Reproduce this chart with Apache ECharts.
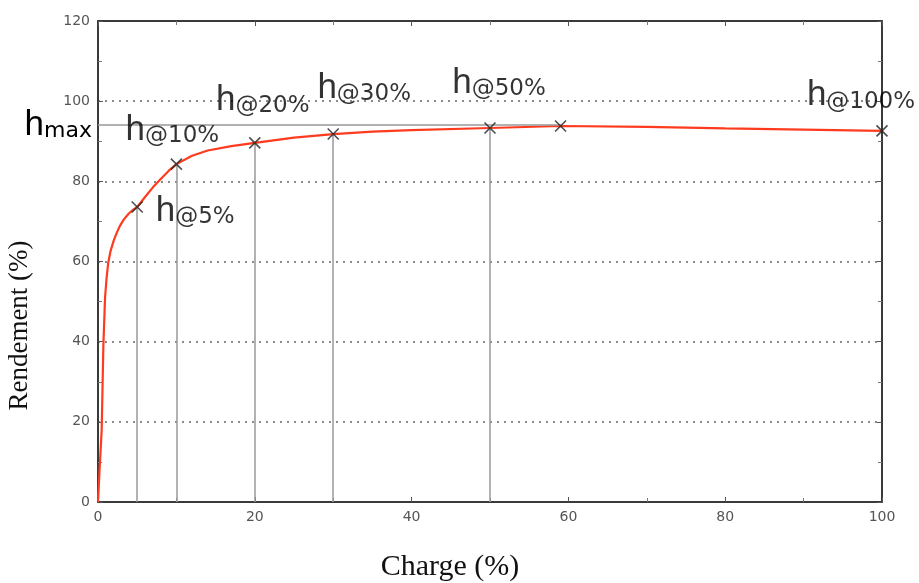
<!DOCTYPE html>
<html>
<head>
<meta charset="utf-8">
<script src="https://cdn.jsdelivr.net/npm/echarts@6/dist/echarts.min.js"></script>
<style>
  html, body { margin: 0; padding: 0; background: #fff; }
  #chart { width: 919px; height: 583px; }
</style>
</head>
<body>
<div id="chart"></div>
<script>
// efficiency curve (charge %, rendement %)
var curveX = [0, 0.2, 0.47, 0.68, 0.9, 1.1, 1.3, 1.6, 2.0, 2.4, 2.8, 3.3, 3.9, 4.4, 5, 6, 7, 8, 9, 10, 12, 14, 17, 20, 25, 30, 35, 40, 50, 59, 70, 80, 90, 100];
var curveY = [0, 8, 18, 38.7, 51, 56, 59.6, 62.6, 65.2, 67.2, 68.9, 70.5, 71.9, 72.8, 73.6, 76.1, 78.5, 80.6, 82.6, 84.3, 86.4, 87.7, 88.8, 89.6, 90.9, 91.8, 92.4, 92.8, 93.3, 93.8, 93.6, 93.2, 92.9, 92.6];

// marked points
var markX = [5, 10, 20, 30, 50, 59, 100];
var markY = [73.6, 84.3, 89.6, 91.8, 93.3, 93.8, 92.6];
var markNames = ['@5%', '@10%', '@20%', '@30%', '@50%', '', '@100%'];
var dropLines = [5, 10, 20, 30, 50]; // which points get a vertical line

var hmax = 94;
var hmaxEnd = 59;

// label offsets in px (style only)
var labelOffsets = [[58, 4], [-4, -34], [8, -43], [31, -46], [9, -45], [0, 0], [-21, -35]];

var myChart = echarts.init(document.getElementById('chart'));

var richText = {
  h: { fontSize: 35, color: '#000', fontFamily: 'Liberation Sans, Arial', verticalAlign: 'bottom', lineHeight: 35 },
  s: { fontSize: 23, color: '#000', fontFamily: 'DejaVu Sans', verticalAlign: 'bottom', lineHeight: 29 },
  m: { fontSize: 22, color: '#000', fontFamily: 'DejaVu Sans', verticalAlign: 'bottom', lineHeight: 29 }
};

var curveData = curveX.map(function (x, i) { return [x, curveY[i]]; });
var pointData = markX.map(function (x, i) {
  return {
    value: [x, markY[i]],
    label: {
      show: markNames[i] !== '',
      formatter: '{h|h}{s|' + markNames[i] + '}',
      offset: labelOffsets[i]
    }
  };
});
var dropData = dropLines.map(function (x) {
  var y = markY[markX.indexOf(x)];
  return [{ coord: [x, 0] }, { coord: [x, y] }];
});

var axisCommon = {
  type: 'value',
  axisLine: { show: true, onZero: false, lineStyle: { color: '#3a3a3a', width: 2 } },
  axisTick: { show: true, inside: true, length: 5, lineStyle: { color: '#555' } },
  minorTick: { show: true, splitNumber: 2, length: 4, lineStyle: { color: '#777' } }
};

var option = {
  animation: false,
  grid: { left: 98, right: 37, top: 21, bottom: 81, outerBoundsMode: 'none' },
  xAxis: [
    Object.assign({}, axisCommon, {
      min: 0, max: 100, interval: 20,
      name: 'Charge (%)', nameLocation: 'middle', nameGap: 50,
      nameTextStyle: { fontFamily: 'Liberation Serif, Times New Roman', fontSize: 30, color: '#111', padding: [0, 80, 0, 0] },
      axisLabel: { color: '#555', fontSize: 14, margin: 8, fontFamily: 'DejaVu Sans' },
      splitLine: { show: false }
    }),
    Object.assign({}, axisCommon, {
      min: 0, max: 100, interval: 20, position: 'top',
      axisLabel: { show: false }, splitLine: { show: false }
    })
  ],
  yAxis: [
    Object.assign({}, axisCommon, {
      min: 0, max: 120, interval: 20,
      name: 'Rendement (%)', nameLocation: 'middle', nameGap: 65,
      nameTextStyle: { fontFamily: 'Liberation Serif, Times New Roman', fontSize: 27, color: '#111', padding: [0, 128, 0, 0] },
      axisLabel: { color: '#555', fontSize: 14, margin: 8, fontFamily: 'DejaVu Sans' },
      splitLine: { show: true, lineStyle: { color: '#666', type: [2, 5], width: 1.5 } }
    }),
    Object.assign({}, axisCommon, {
      min: 0, max: 120, interval: 20, position: 'right',
      axisLabel: { show: false }, splitLine: { show: false }
    })
  ],
  series: [
    {
      type: 'line',
      data: curveData,
      smooth: false,
      showSymbol: false,
      lineStyle: { color: '#ff3b1f', width: 2.2 },
      z: 3,
      markLine: {
        silent: true,
        symbol: 'none',
        lineStyle: { color: '#999', width: 1.5, type: 'solid' },
        label: {
          show: true,
          position: 'start',
          distance: 6,
          formatter: '{h|h}{m|max}',
          rich: richText
        },
        data: [[{ coord: [0, hmax] }, { coord: [hmaxEnd, hmax] }]]
      }
    },
    {
      type: 'scatter',
      data: pointData,
      symbol: 'path://M0,0L10,10M10,0L0,10',
      symbolSize: 11,
      itemStyle: { color: 'transparent', borderColor: '#222', borderWidth: 1.6 },
      label: {
        position: 'inside',
        align: 'center',
        verticalAlign: 'middle',
        rich: richText
      },
      z: 5,
      markLine: {
        silent: true,
        symbol: 'none',
        label: { show: false },
        lineStyle: { color: '#999', width: 1.5, type: 'solid' },
        data: dropData
      }
    }
  ]
};

myChart.setOption(option);
</script>
</body>
</html>
